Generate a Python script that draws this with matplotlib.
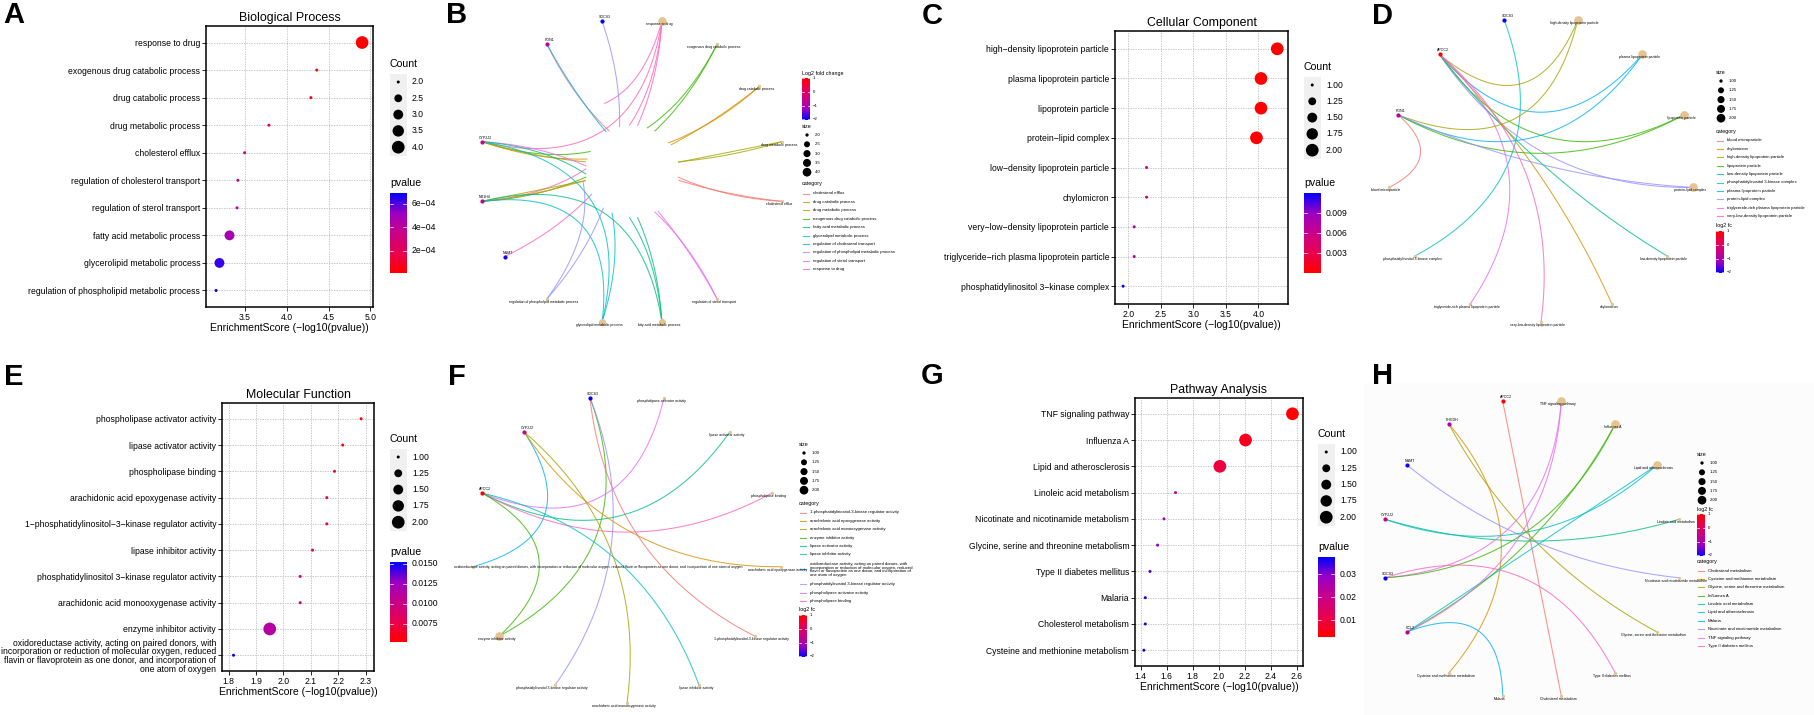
import textwrap
import numpy as np
import matplotlib
matplotlib.use("Agg")
import matplotlib.pyplot as plt
from matplotlib.colors import LinearSegmentedColormap
from matplotlib.patches import Rectangle
from matplotlib.ticker import MultipleLocator

plt.rcParams['font.family'] = ['Liberation Sans', 'DejaVu Sans']

W, H, DPI = 1814, 715, 100

### DATA ###
OXIDO = ('oxidoreductase activity, acting on paired donors, with incorporation or reduction '
         'of molecular oxygen, reduced flavin or flavoprotein as one donor, and incorporation '
         'of one atom of oxygen')

# A - GO biological process
bp_terms = ['response to drug', 'exogenous drug catabolic process', 'drug catabolic process',
            'drug metabolic process', 'cholesterol efflux', 'regulation of cholesterol transport',
            'regulation of sterol transport', 'fatty acid metabolic process',
            'glycerolipid metabolic process', 'regulation of phospholipid metabolic process']
bp_score = [4.90, 4.36, 4.29, 3.79, 3.50, 3.42, 3.41, 3.32, 3.20, 3.16]
bp_count = [4, 2, 2, 2, 2, 2, 2, 3, 3, 2]

# C - GO cellular component
cc_terms = ['high-density lipoprotein particle', 'plasma lipoprotein particle', 'lipoprotein particle',
            'protein-lipid complex', 'low-density lipoprotein particle', 'chylomicron',
            'very-low-density lipoprotein particle', 'triglyceride-rich plasma lipoprotein particle',
            'phosphatidylinositol 3-kinase complex']
cc_score = [4.29, 4.04, 4.04, 3.97, 2.28, 2.28, 2.09, 2.09, 1.92]
cc_count = [2, 2, 2, 2, 1, 1, 1, 1, 1]

# E - GO molecular function
mf_terms = ['phospholipase activator activity', 'lipase activator activity', 'phospholipase binding',
            'arachidonic acid epoxygenase activity', '1-phosphatidylinositol-3-kinase regulator activity',
            'lipase inhibitor activity', 'phosphatidylinositol 3-kinase regulator activity',
            'arachidonic acid monooxygenase activity', 'enzyme inhibitor activity', OXIDO]
mf_score = [2.283, 2.216, 2.186, 2.158, 2.158, 2.106, 2.061, 2.061, 1.950, 1.818]
mf_count = [1, 1, 1, 1, 1, 1, 1, 1, 2, 1]

# G - KEGG
kegg_terms = ['TNF signaling pathway', 'Influenza A', 'Lipid and atherosclerosis', 'Linoleic acid metabolism',
              'Nicotinate and nicotinamide metabolism', 'Glycine, serine and threonine metabolism',
              'Type II diabetes mellitus', 'Malaria', 'Cholesterol metabolism',
              'Cysteine and methionine metabolism']
kegg_score = [2.565, 2.205, 2.008, 1.668, 1.579, 1.530, 1.472, 1.436, 1.436, 1.425]
kegg_count = [2, 2, 2, 1, 1, 1, 1, 1, 1, 1]

# genes and fold change
gene_names = ['APOC2', 'SOCS3', 'NNMT', 'PON1', 'CYP2J2', 'PHGDH', 'CCL2', 'NR1H4']
gene_log2fc = [1.02, -2.05, -1.95, -0.85, -0.55, -0.90, -0.75, -0.70]

# B - network (circular order, clockwise)
bp_net_order = ['SOCS3', 'response to drug', 'exogenous drug catabolic process', 'drug catabolic process',
                'drug metabolic process', 'cholesterol efflux', 'regulation of cholesterol transport',
                'regulation of sterol transport', 'fatty acid metabolic process',
                'glycerolipid metabolic process', 'regulation of phospholipid metabolic process',
                'NNMT', 'NR1H4', 'CYP2J2', 'APOC2', 'PON1']
bp_net_hidden = ['regulation of cholesterol transport', 'APOC2']
bp_edges = [('CYP2J2', 'response to drug'), ('NR1H4', 'response to drug'), ('NNMT', 'response to drug'),
            ('APOC2', 'response to drug'),
            ('CYP2J2', 'exogenous drug catabolic process'), ('NR1H4', 'exogenous drug catabolic process'),
            ('CYP2J2', 'drug catabolic process'), ('NR1H4', 'drug catabolic process'),
            ('CYP2J2', 'drug metabolic process'), ('NR1H4', 'drug metabolic process'),
            ('APOC2', 'cholesterol efflux'), ('PON1', 'cholesterol efflux'),
            ('APOC2', 'regulation of cholesterol transport'), ('PON1', 'regulation of cholesterol transport'),
            ('APOC2', 'regulation of sterol transport'), ('CYP2J2', 'regulation of sterol transport'),
            ('CYP2J2', 'fatty acid metabolic process'), ('NR1H4', 'fatty acid metabolic process'),
            ('APOC2', 'fatty acid metabolic process'),
            ('APOC2', 'glycerolipid metabolic process'), ('NR1H4', 'glycerolipid metabolic process'),
            ('CYP2J2', 'glycerolipid metabolic process'),
            ('SOCS3', 'regulation of phospholipid metabolic process'),
            ('APOC2', 'regulation of phospholipid metabolic process')]

# D - network
cc_net_order = ['SOCS3', 'high-density lipoprotein particle', 'plasma lipoprotein particle',
                'lipoprotein particle', 'protein-lipid complex', 'low-density lipoprotein particle',
                'chylomicron', 'very-low-density lipoprotein particle',
                'triglyceride-rich plasma lipoprotein particle', 'phosphatidylinositol 3-kinase complex',
                'blood microparticle', 'PON1', 'APOC2']
cc_edges = [('SOCS3', 'phosphatidylinositol 3-kinase complex'),
            ('APOC2', 'high-density lipoprotein particle'), ('APOC2', 'plasma lipoprotein particle'),
            ('APOC2', 'lipoprotein particle'), ('APOC2', 'protein-lipid complex'),
            ('APOC2', 'low-density lipoprotein particle'), ('APOC2', 'chylomicron'),
            ('APOC2', 'very-low-density lipoprotein particle'),
            ('APOC2', 'triglyceride-rich plasma lipoprotein particle'),
            ('PON1', 'high-density lipoprotein particle'), ('PON1', 'plasma lipoprotein particle'),
            ('PON1', 'lipoprotein particle'), ('PON1', 'protein-lipid complex'),
            ('PON1', 'blood microparticle')]

# F - network
mf_net_order = ['SOCS3', 'phospholipase activator activity', 'lipase activator activity',
                'phospholipase binding', 'arachidonic acid epoxygenase activity',
                '1-phosphatidylinositol-3-kinase regulator activity', 'lipase inhibitor activity',
                'arachidonic acid monooxygenase activity', 'phosphatidylinositol 3-kinase regulator activity',
                'enzyme inhibitor activity', OXIDO, 'APOC2', 'CYP2J2']
mf_edges = [('SOCS3', '1-phosphatidylinositol-3-kinase regulator activity'),
            ('SOCS3', 'enzyme inhibitor activity'),
            ('SOCS3', 'phosphatidylinositol 3-kinase regulator activity'),
            ('APOC2', 'phospholipase activator activity'), ('APOC2', 'lipase activator activity'),
            ('APOC2', 'phospholipase binding'), ('APOC2', 'lipase inhibitor activity'),
            ('APOC2', 'enzyme inhibitor activity'),
            ('CYP2J2', OXIDO), ('CYP2J2', 'arachidonic acid epoxygenase activity'),
            ('CYP2J2', 'arachidonic acid monooxygenase activity')]

# H - network
kegg_net_order = ['APOC2', 'TNF signaling pathway', 'Influenza A', 'Lipid and atherosclerosis',
                  'Linoleic acid metabolism', 'Nicotinate and nicotinamide metabolism',
                  'Glycine, serine and threonine metabolism', 'Type II diabetes mellitus',
                  'Cholesterol metabolism', 'Malaria', 'Cysteine and methionine metabolism',
                  'CCL2', 'SOCS3', 'CYP2J2', 'NNMT', 'PHGDH']
kegg_edges = [('APOC2', 'Cholesterol metabolism'), ('PHGDH', 'Glycine, serine and threonine metabolism'),
              ('PHGDH', 'Cysteine and methionine metabolism'), ('NNMT', 'Nicotinate and nicotinamide metabolism'),
              ('CYP2J2', 'Linoleic acid metabolism'), ('CYP2J2', 'Lipid and atherosclerosis'),
              ('CCL2', 'Lipid and atherosclerosis'), ('CCL2', 'Influenza A'), ('CCL2', 'TNF signaling pathway'),
              ('CCL2', 'Malaria'), ('SOCS3', 'TNF signaling pathway'), ('SOCS3', 'Influenza A'),
              ('SOCS3', 'Type II diabetes mellitus')]

### STYLE ###
pval_cmap = LinearSegmentedColormap.from_list('p', ['#FF0000', '#E8004F', '#CA0088', '#9A00C3', '#0000FF'])
fc_cmap = pval_cmap.reversed()
hue10 = ['#F8766D', '#D89000', '#A3A500', '#39B600', '#00BF7D',
         '#00BFC4', '#00B0F6', '#9590FF', '#E76BF3', '#FF62BC']
TERM_COL = '#E5C494'
fc_min, fc_max = min(gene_log2fc), max(gene_log2fc)
gene_fc = dict(zip(gene_names, gene_log2fc))

fig = plt.figure(figsize=(W / DPI, H / DPI), dpi=DPI)
ov = fig.add_axes([0, 0, 1, 1], zorder=10)
ov.patch.set_alpha(0)
ov.axis('off')


def px(x0, y0, x1, y1):
    return [x0 / W, 1 - y1 / H, (x1 - x0) / W, (y1 - y0) / H]


def size_s(c, cmin, cmax, dmin, dmax):
    # ggplot-like area scale, returns scatter size in pt^2
    t = (np.asarray(c, float) - cmin) / (cmax - cmin)
    d = dmin + (dmax - dmin) * np.sqrt(np.clip(t, 0, 1))
    return (d * 72.0 / DPI) ** 2


def colorbar(x0, x1, y0, y1, cmap, vmin, vmax, ticks, labels, fs, gap):
    grad = np.linspace(0, 1, 256).reshape(-1, 1)
    ov.imshow(grad, cmap=cmap, aspect='auto', origin='lower', extent=(x0, x1, y1, y0),
              interpolation='bilinear', zorder=2)
    w = x1 - x0
    for v, lab in zip(ticks, labels):
        yy = y1 - (v - vmin) / (vmax - vmin) * (y1 - y0)
        ov.plot([x0, x0 + 0.2 * w], [yy, yy], color='white', lw=0.5, zorder=3)
        ov.plot([x1 - 0.2 * w, x1], [yy, yy], color='white', lw=0.5, zorder=3)
        ov.text(x1 + gap, yy, lab, fontsize=fs, va='center', ha='left')


def dot_panel(box, title, terms, score, count, xlim, xstep, pticks, plabels, cfmt, lx, cnt_y, pv_y):
    ax = fig.add_axes(px(*box))
    score = np.asarray(score)
    pv = 10.0 ** -score
    n = len(terms)
    ypos = np.arange(n)[::-1]
    cmin, cmax = min(count), max(count)
    ax.scatter(score, ypos, s=size_s(count, cmin, cmax, 3, 12.7), c=pv, cmap=pval_cmap,
               vmin=pv.min(), vmax=pv.max(), lw=0, zorder=3)
    ax.set_ylim(-0.6, n - 0.4)
    ax.set_xlim(*xlim)
    ax.set_yticks(ypos)
    ax.set_yticklabels([textwrap.fill(t, 57).replace('-', '\u2212') for t in terms], linespacing=0.95)
    ax.xaxis.set_major_locator(MultipleLocator(xstep))
    ax.grid(True, color='#BEBEBE', lw=0.6, ls=(0, (1.6, 1.4)))
    ax.set_axisbelow(True)
    for s in ax.spines.values():
        s.set_linewidth(1.1)
    ax.tick_params(length=3, width=0.6, labelsize=6.2, pad=1.2, colors='black')
    ax.set_title(title, fontsize=8.9, pad=3.5)
    ax.set_xlabel('EnrichmentScore (\u2212log10(pvalue))', fontsize=7.5, labelpad=0.5)
    # Count legend
    ov.text(lx, cnt_y, 'Count', fontsize=7.6, va='center', ha='left')
    keys = np.linspace(cmin, cmax, 5)
    ky = cnt_y + 18 + np.arange(5) * 16.3
    ov.add_patch(Rectangle((lx, ky[0] - 8.5), 16.5, ky[-1] - ky[0] + 17, fc='#F0F0F0', ec='none', zorder=1))
    ov.scatter(np.full(5, lx + 8.25), ky, s=size_s(keys, cmin, cmax, 3, 12.7), c='black', lw=0, zorder=3)
    for k, yy in zip(keys, ky):
        ov.text(lx + 22, yy, cfmt.format(k), fontsize=6.2, va='center', ha='left')
    # pvalue colorbar
    ov.text(lx, pv_y, 'pvalue', fontsize=7.6, va='center', ha='left')
    colorbar(lx, lx + 16.5, pv_y + 10, pv_y + 90, pval_cmap, pv.min(), pv.max(),
             pticks, plabels, 6.2, 5)


def network(center, R, order, edges, hidden=(), mask=0.0):
    cx, cy = center
    n = len(order)
    step = 2 * np.pi / n
    ang = np.pi / 2 + step / 2 - np.arange(n) * step
    pos = {nm: np.array([R * np.cos(a), -R * np.sin(a)]) for nm, a in zip(order, ang)}
    cats = sorted({t for _, t in edges})
    col = dict(zip(cats, hue10))
    t = np.linspace(0, 1, 120)
    tt = t[:, None]
    for g, term in edges:
        p0, p1 = pos[g], pos[term]
        mid = (p0 + p1) / 2
        chord = np.linalg.norm(p1 - p0)
        c = mid * (1 - 0.76 * chord / R)
        pts = (1 - tt) ** 2 * p0 + 2 * (1 - tt) * tt * c + tt ** 2 * p1
        if mask:
            pts[np.hypot(pts[:, 0], pts[:, 1]) < mask * R] = np.nan
        if g in hidden:
            pts[t < 0.5] = np.nan
        if term in hidden:
            pts[t > 0.5] = np.nan
        ov.plot(cx + pts[:, 0], cy + pts[:, 1], color=col[term], lw=0.75, alpha=0.8, zorder=2)
    deg = {}
    for _, term in edges:
        deg[term] = deg.get(term, 0) + 1
    dmin, dmax = min(deg.values()), max(deg.values())
    for nm in order:
        if nm in hidden:
            continue
        x, y = cx + pos[nm][0], cy + pos[nm][1]
        if nm in gene_fc:
            v = (gene_fc[nm] - fc_min) / (fc_max - fc_min)
            ov.scatter([x], [y], s=(4.2 * 0.72) ** 2, color=fc_cmap(v), lw=0, zorder=4)
            ov.text(x + 3, y - 4, nm, fontsize=2.6, ha='center', va='center', zorder=5)
        else:
            ov.scatter([x], [y], s=size_s(deg[nm], dmin, dmax, 3.3, 8.7), color=TERM_COL, lw=0, zorder=3)
            if len(nm) > 80:
                ov.text(x - 19, y, nm, fontsize=2.5, ha='left', va='center', zorder=5)
            else:
                ov.text(x - 3, y + 3, nm, fontsize=2.5, ha='center', va='center', zorder=5)
    return cats, col, dmin, dmax


def size_legend(x, y, dmin, dmax, fmt):
    ov.text(x, y, 'size', fontsize=3.9, va='center', ha='left')
    keys = np.linspace(dmin, dmax, 5)
    ky = y + 9 + np.arange(5) * 9.3
    ov.scatter(np.full(5, x + 5), ky, s=size_s(keys, dmin, dmax, 3.3, 8.7), c='black', lw=0, zorder=3)
    for k, yy in zip(keys, ky):
        ov.text(x + 13, yy, fmt.format(k), fontsize=3.1, va='center', ha='left')


def cat_legend(x, y, cats, col):
    ov.text(x, y, 'category', fontsize=3.9, va='center', ha='left')
    yy = y + 9.5
    for c in cats:
        lab = textwrap.fill(c, 57)
        nl = lab.count('\n') + 1
        yc = yy + (nl - 1) * 2.2
        ov.plot([x + 1, x + 6.5], [yc, yc], color=col[c], lw=0.8, alpha=0.8)
        ov.text(x + 11, yc, lab, fontsize=3.1, va='center', ha='left', linespacing=0.95)
        yy += 8.4 + (nl - 1) * 4.4


def fc_legend(x, y, title):
    ov.text(x, y, title, fontsize=3.9, va='center', ha='left')
    colorbar(x, x + 7.5, y + 5, y + 47, fc_cmap, fc_min, fc_max,
             [1, 0, -1, -2], ['1', '0', '\u22121', '\u22122'], 3.1, 3.5)


# very faint background of panel H
ov.add_patch(Rectangle((1364, 383), W - 1364, H - 383, fc='#FCFCFC', ec='none', zorder=0))

### dot plots ###
dot_panel((206, 26, 373, 307), 'Biological Process', bp_terms, bp_score, bp_count, (3.04, 5.03), 0.5,
          [2e-4, 4e-4, 6e-4], ['2e\u221204', '4e\u221204', '6e\u221204'], '{:.1f}', 390, 64, 183)
dot_panel((1115, 31, 1288, 304), 'Cellular Component', cc_terms, cc_score, cc_count, (1.795, 4.455), 0.5,
          [0.003, 0.006, 0.009], ['0.003', '0.006', '0.009'], '{:.2f}', 1304, 67, 183)
dot_panel((222, 403, 374, 671), 'Molecular Function', mf_terms, mf_score, mf_count, (1.776, 2.33), 0.1,
          [0.0075, 0.01, 0.0125, 0.015], ['0.0075', '0.0100', '0.0125', '0.0150'], '{:.2f}', 390, 439, 552)
dot_panel((1135, 398, 1303, 666), 'Pathway Analysis', kegg_terms, kegg_score, kegg_count, (1.357, 2.646), 0.2,
          [0.01, 0.02, 0.03], ['0.01', '0.02', '0.03'], '{:.2f}', 1318, 434, 547)

### networks ###
cats, col, d0, d1 = network((632, 171.5), 153, bp_net_order, bp_edges, hidden=bp_net_hidden, mask=0.3)
fc_legend(802, 73, 'Log2 fold change')
size_legend(802, 126, d0, d1, '{:.1f}')
cat_legend(802, 184, cats, col)

cats, col, d0, d1 = network((1541, 169), 153, cc_net_order, cc_edges)
size_legend(1716, 72, d0, d1, '{:.2f}')
cat_legend(1716, 131, cats, col)
fc_legend(1716, 226, 'log2 fc')

cats, col, d0, d1 = network((627, 548), 155, mf_net_order, mf_edges)
size_legend(799, 444, d0, d1, '{:.2f}')
cat_legend(799, 503, cats, col)
fc_legend(799, 610, 'log2 fc')

cats, col, d0, d1 = network((1532, 548.5), 150, kegg_net_order, kegg_edges)
size_legend(1697, 454, d0, d1, '{:.2f}')
fc_legend(1697, 509, 'log2 fc')
cat_legend(1697, 561, cats, col)

### panel letters ###
for lab, x, y in [('A', 14, 15), ('B', 457, 15), ('C', 932, 16), ('D', 1383, 16),
                  ('E', 14, 377), ('F', 457, 377), ('G', 932, 376), ('H', 1383, 376)]:
    ov.text(x, y, lab, fontsize=21, fontweight='bold', ha='center', va='center')

ov.set_xlim(0, W)
ov.set_ylim(H, 0)
fig.savefig('out.png', dpi=DPI)
